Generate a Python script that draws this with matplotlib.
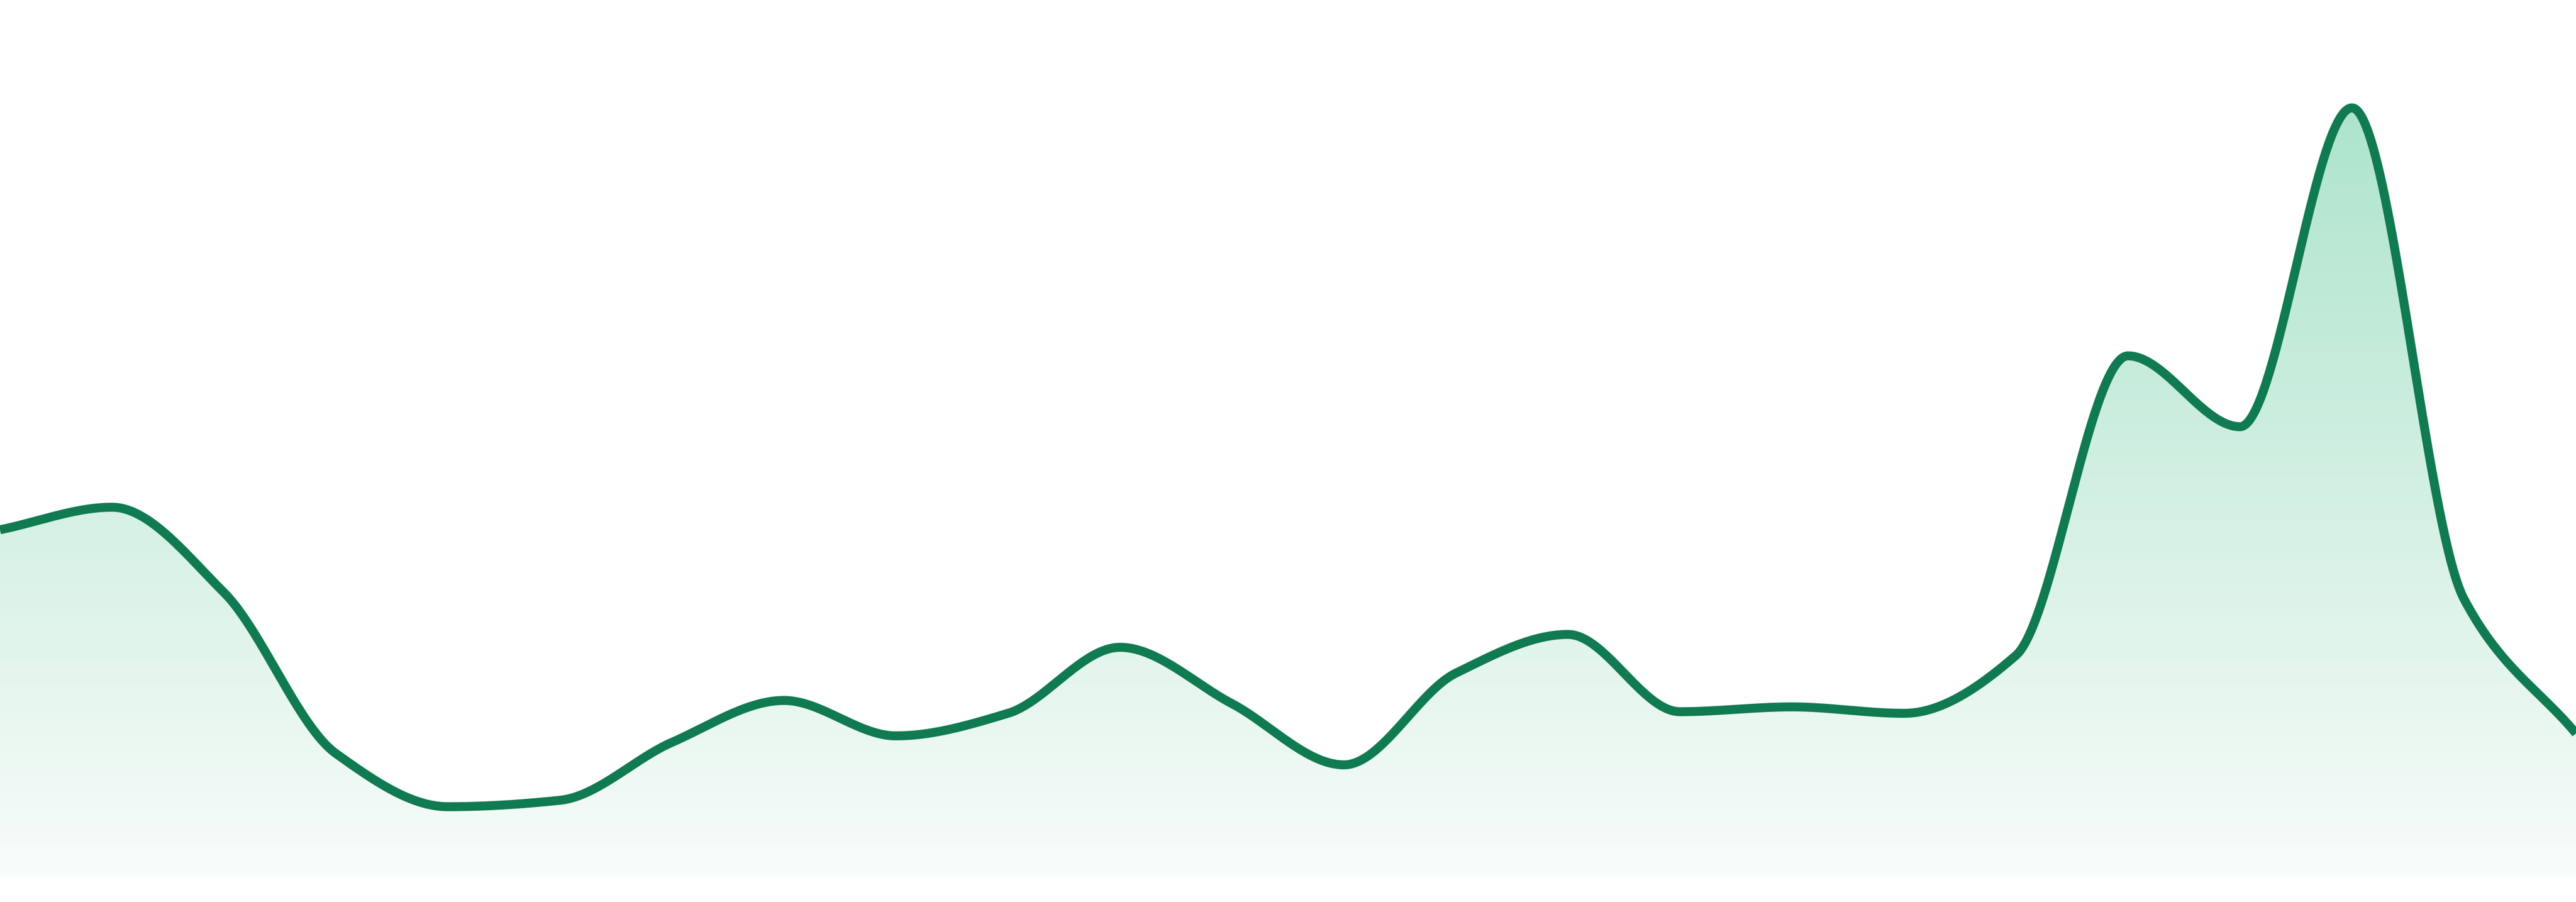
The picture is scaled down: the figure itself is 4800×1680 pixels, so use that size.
import matplotlib
matplotlib.use("Agg")
import matplotlib.pyplot as plt
import numpy as np
from matplotlib.colors import LinearSegmentedColormap

# values, one per evenly spaced point
values = [43.1, 45.9, 35.3, 15.3, 8.7, 9.5, 16.7, 21.9, 17.5, 20.3, 28.5, 21.5,
          13.9, 25.3, 30.1, 20.5, 21.1, 20.3, 27.5, 64.7, 55.9, 95.5, 34.5, 17.8]
y_max = 108.9

line_color = "#107a50"
fill_top = "#ade4cc"
fill_bottom = "#f8fcfa"


def pchip(x, y, xs):
    # monotone cubic (Fritsch-Carlson), like a "monotone" line curve
    x = np.asarray(x, float)
    y = np.asarray(y, float)
    h = np.diff(x)
    delta = np.diff(y) / h
    d = np.zeros_like(y)
    for k in range(1, len(y) - 1):
        if delta[k - 1] * delta[k] > 0:
            w1 = 2 * h[k] + h[k - 1]
            w2 = h[k] + 2 * h[k - 1]
            d[k] = (w1 + w2) / (w1 / delta[k - 1] + w2 / delta[k])
    d[0] = delta[0]
    d[-1] = delta[-1]
    idx = np.clip(np.searchsorted(x, xs) - 1, 0, len(x) - 2)
    t = (xs - x[idx]) / h[idx]
    h00 = 2 * t**3 - 3 * t**2 + 1
    h10 = t**3 - 2 * t**2 + t
    h01 = -2 * t**3 + 3 * t**2
    h11 = t**3 - t**2
    return (h00 * y[idx] + h10 * h[idx] * d[idx]
            + h01 * y[idx + 1] + h11 * h[idx] * d[idx + 1])


xk = np.arange(len(values))
xs = np.linspace(0, len(values) - 1, 3000)
ys = pchip(xk, values, xs)

fig = plt.figure(figsize=(16, 5.6), dpi=300)
ax = fig.add_axes([0, 47 / 1680, 1, 1633 / 1680])
ax.set_xlim(0, len(values) - 1)
ax.set_ylim(0, y_max)
ax.axis("off")

# vertical gradient, clipped to the area under the curve
cmap = LinearSegmentedColormap.from_list("fade", [fill_bottom, fill_top])
grad = np.linspace(0, 1, 256).reshape(-1, 1)
img = ax.imshow(grad, cmap=cmap, aspect="auto", origin="lower",
                extent=[0, len(values) - 1, 0, y_max * 0.88], zorder=1)
poly = ax.fill_between(xs, 0, ys, color="none", lw=0)
clip = poly.get_paths()[0]
img.set_clip_path(clip, transform=ax.transData)

ax.plot(xs, ys, color=line_color, lw=4, solid_capstyle="butt",
        solid_joinstyle="round", zorder=3)

fig.savefig("out.png", dpi=300, facecolor="white")
